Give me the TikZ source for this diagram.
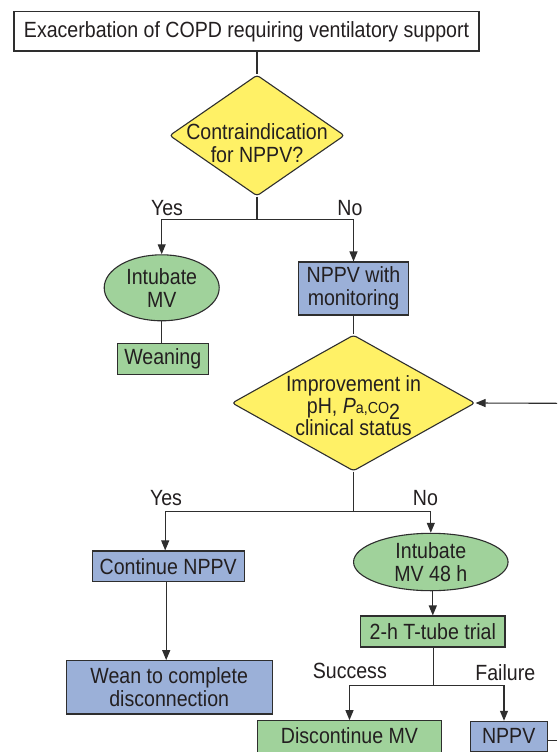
\documentclass[tikz,border=0pt]{standalone}
\usepackage{fontspec}
\setmainfont{Liberation Sans}[FakeStretch=0.89]
\usetikzlibrary{shapes.geometric,arrows.meta,calc}
\definecolor{yel}{HTML}{FFF166}
\definecolor{grn}{HTML}{A0D29B}
\definecolor{blu}{HTML}{9BB0D8}
\definecolor{ln}{HTML}{2E2E2E}
\definecolor{tx}{HTML}{231F20}
\begin{document}
\begin{tikzpicture}[x=1pt,y=-1pt,
  every node/.style={font=\fontsize{22}{23}\selectfont, text=tx, inner sep=0pt, align=center},
  box/.style={draw=ln, line width=1.1pt, rectangle},
  wbox/.style={box, fill=white},
  gbox/.style={box, fill=grn},
  bbox/.style={box, fill=blu},
  ell/.style={draw=ln, line width=1.1pt, ellipse, fill=grn},
  dia/.style={draw=ln, line width=1.1pt, diamond, fill=yel, rounded corners=3pt},
  lbl/.style={anchor=base},
  conn/.style={draw=ln, line width=1.1pt},
  arr/.style={conn, -{Triangle[length=10pt,width=8pt]}},
]
\clip (0,0) rectangle (557,752);
\fill[white] (0,0) rectangle (557,752);

% nodes
\node[wbox, minimum width=465pt, minimum height=39.3pt] (top) at (246.5,31.35)
  {Exacerbation of COPD requiring ventilatory support};
\node[dia, minimum width=175pt, minimum height=121pt] (d1) at (257,135.5) {};
\node (d1t) at (257,143.5) {Contraindication\\for NPPV?};

\node[lbl] (yes1) at (167,215) {Yes};
\node[lbl] (no1) at (350,215) {No};

\node[ell, minimum width=115pt, minimum height=66pt] (e1) at (161.7,287.8) {Intubate\\MV};
\node[bbox, minimum width=110pt, minimum height=53pt] (b1) at (353.5,288.5) {NPPV with\\monitoring};
\node[gbox, minimum width=91pt, minimum height=30.7pt] (w1) at (162.8,358.7) {Weaning};

\node[dia, minimum width=243pt, minimum height=136pt] (d2) at (353.5,403) {};
\node[font=\fontsize{22}{22}\selectfont] (d2t) at (353.5,406)
  {Improvement in\\pH, \textit{P}{\fontsize{16}{16}\selectfont a,CO}\raisebox{-6pt}[0pt][0pt]{2}\\clinical status};

\node[lbl] (yes2) at (166,505) {Yes};
\node[lbl] (no2) at (425.5,505) {No};

\node[bbox, minimum width=151.7pt, minimum height=30.7pt] (cn) at (168.2,566.3) {Continue NPPV};
\node[bbox, minimum width=206.3pt, minimum height=53.3pt] (wn) at (169.2,687.3) {Wean to complete\\disconnection};

\node[ell, minimum width=154.5pt, minimum height=57.4pt] (e2) at (430.8,562) {Intubate\\MV 48 h};
\node[gbox, minimum width=144.4pt, minimum height=31pt] (t2) at (432.8,631.5) {2-h T-tube trial};

\node[lbl] (succ) at (349.8,678.3) {Success};
\node[lbl] (fail) at (505.3,680) {Failure};

\node[gbox, minimum width=184.4pt, minimum height=44pt] (dm) at (349.5,742.7) {};
\node[lbl] (dmt) at (349.5,743.3) {Discontinue MV};
\node[bbox, minimum width=77.3pt, minimum height=30pt] (np) at (508.7,736.3) {NPPV};

% connectors
\coordinate (j1) at (257,219.3);
\coordinate (j2) at (353.5,511.3);
\coordinate (j3) at (433.5,685.3);
\coordinate (rin) at (557,403.3);
\coordinate (rout) at (557,740.3);
\coordinate (cs) at ($(cn.south)+(-2,0)$);
\coordinate (cni) at ($(cn.north)+(-3,0)$);
\coordinate (npi) at ($(np.north)+(-4.7,0)$);

\draw[conn] (top.south -| d1.north) -- (d1.north);
\draw[conn] (d1.south) -- (j1);
\draw[arr] (j1) -| (e1.north);
\draw[arr] (j1) -| (b1.north);
\draw[conn] (e1.south) -- (e1.south |- w1.north);
\draw[conn] (b1.south) -- (d2.north);
\draw[arr] (rin) -- (d2.east);
\draw[conn] (d2.south) -- (j2);
\draw[arr] (j2) -| (cni);
\draw[arr] (j2) -| (e2.north);
\draw[arr] (cs) -- (cs |- wn.north);
\draw[arr] (e2.south -| t2.north) -- (t2.north);
\draw[conn] (t2.south -| j3) -- (j3);
\draw[arr] (j3) -| (dm.north);
\draw[arr] (j3) -| (npi);
\draw[conn] (rout -| np.east) -- (rout);
\end{tikzpicture}
\end{document}
